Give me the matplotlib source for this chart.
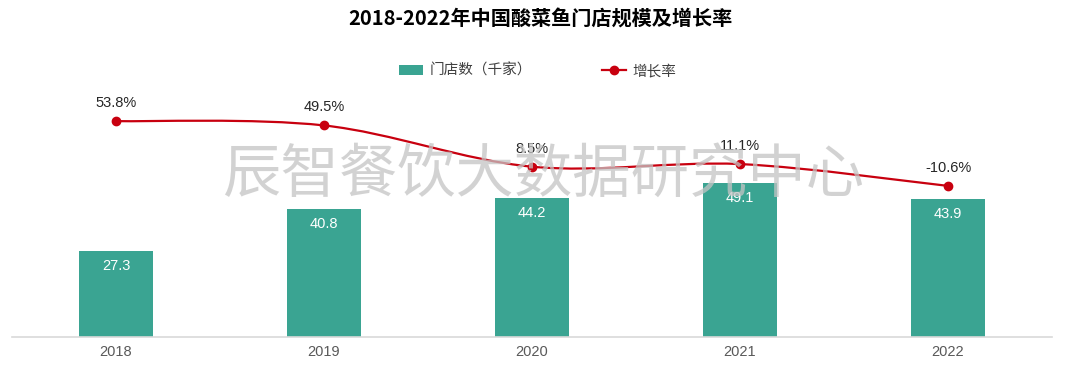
import numpy as np
import matplotlib
matplotlib.use("Agg")
import matplotlib.pyplot as plt
from matplotlib.path import Path
from matplotlib.patches import PathPatch, Patch
from matplotlib.lines import Line2D

plt.rcParams['font.family'] = ['Liberation Sans', 'Noto Sans CJK SC', 'DejaVu Sans']

# --- dados ---
anos = ["2018", "2019", "2020", "2021", "2022"]
lojas = [27.3, 40.8, 44.2, 49.1, 43.9]          # milhares de lojas
crescimento = [0.538, 0.495, 0.085, 0.111, -0.106]
rotulos_cresc = ["53.8%", "49.5%", "8.5%", "11.1%", "-10.6%"]

cor_barra = "#3aa492"
cor_linha = "#c8000f"
cor_texto = "#404040"

fig = plt.figure(figsize=(10.8, 3.7), dpi=100)
ax = fig.add_axes([12 / 1080, 33 / 370, 1040 / 1080, 251 / 370])

x = np.arange(len(anos))
barras = ax.bar(x, lojas, width=0.36, color=cor_barra, zorder=2)
for xi, v in zip(x, lojas):
    ax.annotate(f"{v}", (xi, v), xytext=(0, -15), textcoords="offset pixels",
                ha="center", va="center", color="white", fontsize=10.5, zorder=3)

ax.set_xlim(-0.5, len(anos) - 0.5)
ax.set_ylim(0, 80)
ax.set_xticks(x)
ax.set_xticklabels(anos, color="#595959", fontsize=10.5)
ax.tick_params(axis="x", length=0, pad=6)
ax.set_yticks([])
for s in ["top", "left", "right"]:
    ax.spines[s].set_visible(False)
ax.spines["bottom"].set_color("#d9d9d9")
ax.spines["bottom"].set_linewidth(1.2)

# --- eixo secundário: taxa de crescimento (linha suavizada) ---
ax2 = ax.twinx()
ax2.set_ylim(-1.608, 0.887)
ax2.axis("off")

pts = np.column_stack([x, crescimento])
verts = [pts[0]]
codes = [Path.MOVETO]
n = len(pts)
for i in range(n - 1):
    p0 = pts[max(i - 1, 0)]
    p1 = pts[i]
    p2 = pts[i + 1]
    p3 = pts[min(i + 2, n - 1)]
    c1 = p1 + (p2 - p0) / 6
    c2 = p2 - (p3 - p1) / 6
    verts += [c1, c2, p2]
    codes += [Path.CURVE4] * 3
curva = PathPatch(Path(verts, codes), facecolor="none", edgecolor=cor_linha,
                  linewidth=1.6, zorder=4)
ax2.add_patch(curva)
ax2.plot(x, crescimento, linestyle="none", marker="o", markersize=6,
         color=cor_linha, zorder=5)
for xi, v, r in zip(x, crescimento, rotulos_cresc):
    ax2.annotate(r, (xi, v), xytext=(0, 18), textcoords="offset pixels",
                 ha="center", va="center", color="#262626", fontsize=10.5, zorder=6)

# marca d'água
fig.text(543 / 1080, 1 - 175 / 370, "辰智餐饮大数据研究中心", ha="center", va="center",
         fontsize=42, color="#c4c4c4", alpha=0.75, family=["Noto Sans CJK SC"],
         zorder=10)

# título
fig.text(0.5, 1 - 18 / 370, "2018-2022年中国酸菜鱼门店规模及增长率", ha="center",
         va="center", fontsize=14.5, fontweight="bold", color="#000000",
         family=["Noto Sans CJK SC"])

# legenda
handles = [
    Patch(facecolor=cor_barra, edgecolor="none", label="门店数（千家）"),
    Line2D([0], [0], color=cor_linha, marker="o", markersize=6, linewidth=1.6,
           label="增长率"),
]
fig.legend(handles=handles, loc="center", bbox_to_anchor=(538 / 1080, 1 - 71 / 370),
           ncol=2, frameon=False, fontsize=10.5, columnspacing=4.8,
           handlelength=1.6, handletextpad=0.5, labelcolor=cor_texto)

plt.savefig("out.png", dpi=100)
plt.close()
